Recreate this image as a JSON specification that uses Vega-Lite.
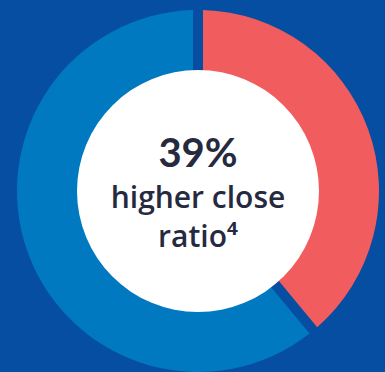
{
  "$schema": "https://vega.github.io/schema/vega-lite/v6.json",
  "width": 385,
  "height": 372,
  "autosize": {"type": "fit", "contains": "padding"},
  "padding": {"left": 11, "top": 10, "right": 0, "bottom": 0},
  "background": "#054EA2",
  "config": {"view": {"stroke": null}},
  "layer": [
    {
      "data": {"values": [
        {"category": "higher", "value": 39},
        {"category": "rest", "value": 61}
      ]},
      "mark": {"type": "arc", "outerRadius": 181, "innerRadius": 120, "padAngle": 0.046},
      "encoding": {
        "theta": {"field": "value", "type": "quantitative", "stack": true},
        "color": {
          "field": "category",
          "type": "nominal",
          "scale": {"domain": ["higher", "rest"], "range": ["#F15D5E", "#0079C1"]},
          "legend": null
        },
        "order": {"field": "category"}
      }
    },
    {
      "data": {"values": [{"c": 1}]},
      "mark": {"type": "point", "shape": "circle", "filled": true, "color": "#FFFFFF", "opacity": 1, "size": 58564, "strokeWidth": 0},
      "encoding": {}
    },
    {
      "data": {"values": [{"label": "39%"}]},
      "mark": {"type": "text", "font": "Lato", "fontWeight": "bold", "fontSize": 40, "baseline": "alphabetic", "dy": -24, "color": "#262A40"},
      "encoding": {"text": {"field": "label"}}
    },
    {
      "data": {"values": [{"label": "higher close\nratio⁴"}]},
      "mark": {"type": "text", "font": "Open Sans", "fontWeight": 600, "fontSize": 30, "baseline": "alphabetic", "dy": 17, "lineHeight": 39, "lineBreak": "\n", "color": "#262A40"},
      "encoding": {"text": {"field": "label"}}
    }
  ]
}
